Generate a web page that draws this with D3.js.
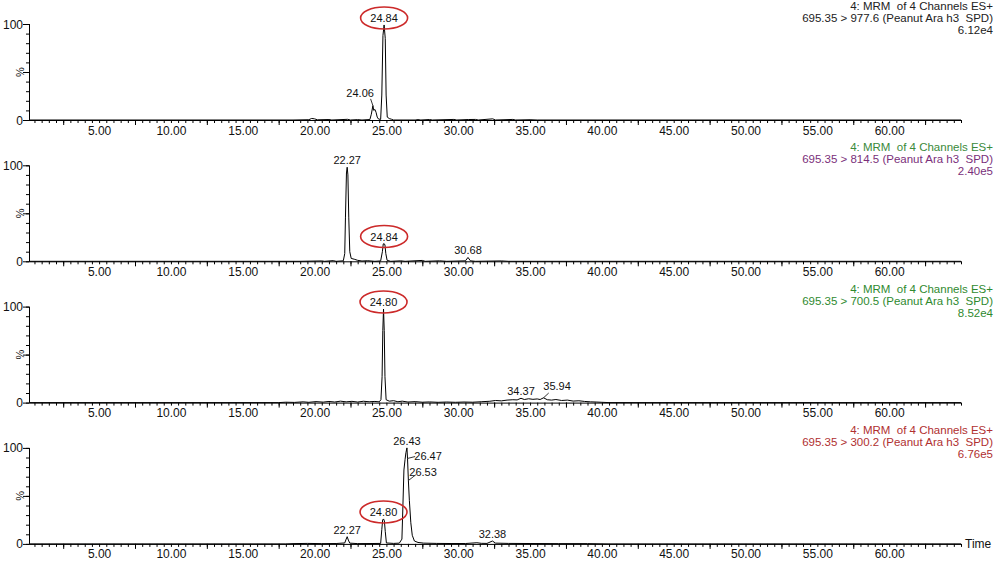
<!DOCTYPE html>
<html><head><meta charset="utf-8">
<script src="https://cdn.jsdelivr.net/npm/d3@7"></script>
<style>
body{margin:0;background:#fff;}
svg text{font-family:"Liberation Sans",Arial,sans-serif;}
</style></head>
<body><svg id="chart" width="1000" height="566"></svg>
<script>
// ---------------- DATA ----------------
const timeDomain = [0.12, 65.0];
const xTickLabels = [5, 10, 15, 20, 25, 30, 35, 40, 45, 50, 55, 60];
const xMajorTicks = [2.5, 7.5, 12.5, 17.5, 22.5, 27.5, 32.5, 37.5, 42.5, 47.5, 52.5, 57.5, 62.5];
const yTicks = [0, 10, 20, 30, 40, 50, 60, 70, 80, 90, 100];
const yMajorTicks = [0, 50, 100];
const yTickLabels = [0, 100];

const scanTitles = ["4: MRM  of 4 Channels ES+", "4: MRM  of 4 Channels ES+", "4: MRM  of 4 Channels ES+", "4: MRM  of 4 Channels ES+"];
const channelNames = ["695.35 > 977.6 (Peanut Ara h3  SPD)", "695.35 > 814.5 (Peanut Ara h3  SPD)", "695.35 > 700.5 (Peanut Ara h3  SPD)", "695.35 > 300.2 (Peanut Ara h3  SPD)"];
const intensities = ["6.12e4", "2.40e5", "8.52e4", "6.76e5"];

// traces: [time (min), relative intensity %]
const trace1 = [[0.12,0],[18.5,0],[19.6,0.3],[19.8,1.6],[20.0,1.2],[20.2,0.2],[21.0,0.5],[21.2,0],[22.3,0.7],[22.5,0],[23.0,0.4],[23.3,0],
  [23.85,0.5],[23.95,6],[24.06,15],[24.12,10],[24.2,11],[24.28,8],[24.36,3],[24.45,1],[24.6,0.6],[24.68,26],[24.76,88],[24.84,99],
  [24.92,85],[24.98,26],[25.06,3],[25.2,1.5],[25.35,0.8],[25.5,0],[27.0,0],[27.2,0.4],[27.4,0],[28.0,0.5],[28.2,0],[29.7,0.6],[29.9,0],
  [30.7,0.5],[31.2,0.6],[31.4,0],[32.4,1.2],[32.6,0],[33.8,0.6],[34.0,0],[35.0,0.3],[35.5,0],[65,0]];
const trace2 = [[0.12,0],[19.0,0],[20.5,0.4],[20.7,0],[21.3,0.7],[21.5,0],[22.0,0.5],[22.1,8],[22.15,46],[22.22,92],[22.27,98],
  [22.32,90],[22.38,46],[22.45,10],[22.55,3],[22.8,2],[23.0,1],[23.3,0.3],[23.7,0.6],[24.2,0],[24.6,0.4],[24.72,10],[24.78,18],
  [24.84,18.5],[24.9,17],[24.96,8],[25.05,1],[25.3,0],[26.0,0.5],[26.3,0],[27.5,0.9],[27.7,0],[28.7,0.5],[29.2,0],[30.5,0.5],
  [30.68,4],[30.85,0.5],[31.2,0],[33.0,0.4],[33.5,0],[65,0]];
const trace3 = [[0.12,0],[17.5,0],[18.0,0.4],[18.6,0.2],[19.2,0.8],[19.6,0.3],[20.1,1.0],[20.6,0.5],[21.0,1.2],[21.4,0.6],[21.8,1.5],
  [22.2,0.8],[22.6,1.3],[23.0,0.6],[23.4,1.4],[23.8,0.9],[24.2,1.2],[24.5,0.8],[24.62,3],[24.7,27],[24.75,75],[24.80,97.5],[24.85,75],
  [24.9,27],[24.98,3],[25.2,1.5],[25.5,2.0],[25.8,0.9],[26.1,1.5],[26.5,0.6],[27.0,1.0],[27.5,0.4],[28.0,0.7],[28.6,0.3],[29.2,0.6],
  [29.8,0.3],[30.4,0.6],[31.0,0.4],[31.6,0.9],[32.2,1.4],[32.6,2.2],[33.0,1.8],[33.4,2.6],[33.8,3.0],[34.1,2.8],[34.37,4.5],[34.6,3.2],
  [34.9,4.0],[35.2,3.4],[35.5,3.8],[35.7,3.2],[35.94,5.0],[36.2,3.0],[36.5,2.6],[36.8,3.2],[37.2,2.2],[37.6,2.6],[38.0,1.6],[38.4,1.9],
  [38.8,1.2],[39.2,0.8],[39.6,0.6],[40.0,0.3],[40.5,0],[65,0]];
const trace4 = [[0.12,0],[18.0,0],[18.5,0.3],[19.5,0.5],[20.5,0.3],[21.5,0.4],[22.1,1],[22.2,5],[22.27,7.5],[22.35,4],[22.45,0.8],
  [23.0,0.3],[24.0,0.4],[24.6,0.5],[24.68,15],[24.74,25],[24.80,26],[24.86,24],[24.92,13],[25.0,1],[25.5,0.5],[25.9,0.8],[26.08,5],
  [26.15,40],[26.22,77],[26.3,88],[26.36,95],[26.43,100],[26.47,89],[26.53,66],[26.6,45],[26.7,22],[26.8,9],[26.95,3],[27.2,1.5],
  [27.6,0.8],[28.5,0.5],[29.5,0.4],[30.5,0.4],[31.3,1.2],[31.6,0.6],[32.0,0.5],[32.38,3],[32.6,0.8],[33.5,0.5],[35,0.4],[37,0.3],
  [39,0.3],[40.5,0],[65,0]];

// peak labels: text, apex time, apex %, circled
const peaks1 = [{text:"24.84", t:24.84, v:99, circled:true}];
const peaks2 = [{text:"22.27", t:22.27, v:98}, {text:"24.84", t:24.84, v:18.5, circled:true}, {text:"30.68", t:30.68, v:4}];
const peaks3 = [{text:"24.80", t:24.80, v:97.5, circled:true}, {text:"34.37", t:34.37, v:4.5}];
const peaks4 = [{text:"22.27", t:22.27, v:7.5}, {text:"24.80", t:24.80, v:26, circled:true}, {text:"26.43", t:26.43, v:100}, {text:"32.38", t:32.38, v:3}];
// offset labels: text, apex, text position (time, %), leader end (time, %)
const leaders1 = [{text:"24.06", t:24.06, v:15, lt:23.17, lv:24, et:23.9, ev:22}];
const leaders2 = [];
const leaders3 = [{text:"35.94", t:35.94, v:5, lt:36.88, lv:13.1, et:36.3, ev:10}];
const leaders4 = [{text:"26.47", t:26.47, v:89, lt:27.9, lv:87.4, et:27.0, ev:91},
                  {text:"26.53", t:26.53, v:66, lt:27.55, lv:70.7, et:27.05, ev:72}];

const traces = [trace1, trace2, trace3, trace4];
const peakSets = [peaks1, peaks2, peaks3, peaks4];
const leaderSets = [leaders1, leaders2, leaders3, leaders4];

// ---------------- STYLE / LAYOUT ----------------
const headerColors = [["#222","#222","#222"],["#3a8a3a","#7a2f7a","#7a2f7a"],["#2f8a2f","#2f8a2f","#2f8a2f"],["#b03030","#b03030","#b03030"]];
const panelBase = [120, 261.3, 402.6, 543.9];
const panelH = 96;
const xLeft = 29, xRight = 961;

const svg = d3.select("#chart");
const x = d3.scaleLinear().domain(timeDomain).range([xLeft, xRight]);

panelBase.forEach((base, i) => {
  const y = d3.scaleLinear().domain([0, 100]).range([base, base - panelH]);
  const g = svg.append("g");

  // x axis: minor ticks
  const minor = d3.range(0.5, 65.01, 0.5);
  g.append("g").attr("transform", `translate(0,${base})`)
    .call(d3.axisBottom(x).tickValues(minor).tickSize(3).tickFormat(""))
    .call(a => a.select(".domain").attr("d", `M${xLeft},0.5H${xRight}`).attr("stroke","#000"))
    .call(a => a.selectAll("line").attr("stroke","#000"));
  g.append("g").attr("transform", `translate(0,${base})`)
    .call(d3.axisBottom(x).tickValues(xMajorTicks).tickSize(5).tickFormat(""))
    .call(a => a.select(".domain").remove())
    .call(a => a.selectAll("line").attr("stroke","#000"));
  g.append("g").attr("transform", `translate(0,${base})`)
    .call(d3.axisBottom(x).tickValues(xTickLabels).tickSize(0).tickPadding(6).tickFormat(d3.format(".2f")))
    .call(a => a.select(".domain").remove())
    .call(a => a.selectAll("text").attr("font-size", 12).attr("fill","#111")
      .attr("font-family", '"Liberation Sans",Arial,sans-serif'));

  // y axis
  g.append("g").attr("transform", `translate(${xLeft},0)`)
    .call(d3.axisLeft(y).tickValues(yTicks).tickSize(3).tickFormat(""))
    .call(a => a.select(".domain").attr("d", `M0.5,${base}V${base-panelH}`).attr("stroke","#000"))
    .call(a => a.selectAll("line").attr("stroke","#000"));
  g.append("g").attr("transform", `translate(${xLeft},0)`)
    .call(d3.axisLeft(y).tickValues(yMajorTicks).tickSize(6).tickFormat(""))
    .call(a => a.select(".domain").remove())
    .call(a => a.selectAll("line").attr("stroke","#000"));
  g.selectAll("text.ylab").data(yTickLabels).join("text").attr("class","ylab")
    .attr("x", 23).attr("y", d => y(d) + 4.5).attr("text-anchor","end")
    .attr("font-size", 12).attr("fill","#111").text(d => d);
  g.append("text").attr("transform", `translate(24,${y(50)}) rotate(-90)`)
    .attr("text-anchor","middle").attr("font-size", 11).attr("fill","#111").text("%");

  // trace
  const line = d3.line().x(d => x(d[0])).y(d => y(d[1]));
  g.append("path").datum(traces[i]).attr("d", line).attr("fill","none")
    .attr("stroke","#000").attr("stroke-width",1);

  // peak labels
  peakSets[i].forEach(p => {
    const tx = x(p.t), ty = y(p.v) - 3;
    g.append("text").attr("x", tx).attr("y", ty).attr("text-anchor","middle")
      .attr("font-size", 11).attr("fill","#111").text(p.text);
    if (p.circled) {
      g.append("ellipse").attr("cx", tx).attr("cy", ty - 4).attr("rx", 23.5).attr("ry", 11)
        .attr("fill","none").attr("stroke","#cc2a2a").attr("stroke-width",1.6);
    }
  });
  leaderSets[i].forEach(p => {
    g.append("line").attr("x1", x(p.t)).attr("y1", y(p.v)).attr("x2", x(p.et)).attr("y2", y(p.ev))
      .attr("stroke","#000").attr("stroke-width",0.8);
    g.append("text").attr("x", x(p.lt)).attr("y", y(p.lv)).attr("text-anchor","middle")
      .attr("font-size", 11).attr("fill","#111").text(p.text);
  });

  // header text
  const hdr = [scanTitles[i], channelNames[i], intensities[i]];
  hdr.forEach((s, k) => {
    g.append("text").attr("x", 993).attr("y", base - 110 + k * 12).attr("text-anchor","end")
      .attr("font-size", 11.5).attr("fill", headerColors[i][k]).attr("xml:space","preserve")
      .style("white-space","pre").text(s);
  });
});

svg.append("text").attr("x", 965).attr("y", panelBase[3] + 4.5).attr("font-size", 12)
  .attr("fill","#111").text("Time");
</script>
</body></html>
